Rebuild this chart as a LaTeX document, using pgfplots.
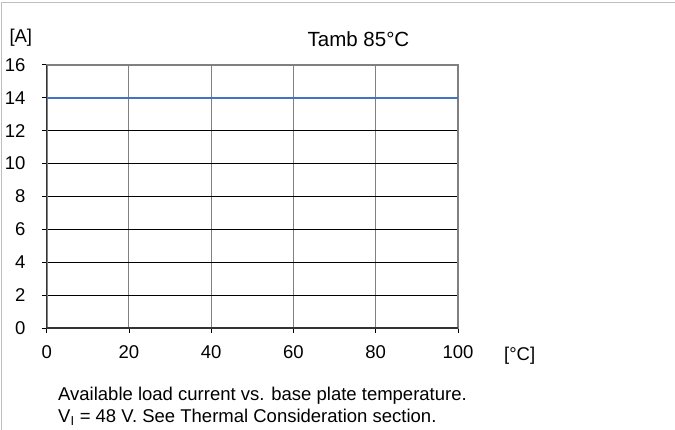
\documentclass[border=0pt]{standalone}
\usepackage{fontspec}
\setmainfont{Liberation Sans}
\usepackage{pgfplots}
\pgfplotsset{compat=1.18}
\definecolor{frame}{RGB}{191,191,191}
\definecolor{linblue}{RGB}{68,114,196}
\definecolor{gridgray}{RGB}{128,128,128}
\newcommand{\fs}{\fontsize{18.5}{22}\selectfont}
\begin{document}
\begin{tikzpicture}[x=1pt,y=1pt]
\useasboundingbox (0,0) rectangle (675,430);
\draw[frame, line width=1.5pt] (1.7,0) -- (1.7,427.3) -- (675,427.3);
\begin{axis}[
    at={(46.7pt,102pt)}, anchor=south west,
    scale only axis,
    width=411.3pt, height=263.2pt,
    xmin=0, xmax=100, ymin=0, ymax=16,
    xtick={0,20,...,100},
    ytick={0,2,...,16},
    tick pos=left,
    tick align=outside,
    major tick length=5pt,
    tick style={black, line width=0.8pt},
    grid=major,
    major x grid style={gridgray, line width=1pt},
    major y grid style={black, line width=0.7pt},
    axis line style={gridgray, line width=2pt},
    /pgf/number format/assume math mode=true,
    ticklabel style={font=\fs, inner sep=0pt},
    yticklabel style={anchor=east, xshift=-16pt},
    xticklabel style={anchor=north, yshift=-12pt},
    clip=false,
]
\addplot[linblue, line width=2.2pt] coordinates {(0,14) (100,14)};
\draw[black!80, line width=1.3pt] (rel axis cs:0,1) -- (rel axis cs:0,0) -- (rel axis cs:1,0);
\end{axis}
\node[anchor=base west, inner sep=0pt, font=\fs] at (9.3,387) {[A]};
\node[anchor=base, inner sep=0pt, font=\fontsize{20.5}{24}\selectfont] at (358.5,383) {Tamb 85°C};
\node[anchor=base west, inner sep=0pt, font=\fs] at (504,69) {[°C]};
\node[anchor=base west, inner sep=0pt, font=\fs] at (58,29.3) {Available load current vs. base plate temperature.};
\node[anchor=base west, inner sep=0pt, font=\fs] at (58,7.7) {V\textsubscript{I} = 48 V. See Thermal Consideration section.};
\end{tikzpicture}
\end{document}
